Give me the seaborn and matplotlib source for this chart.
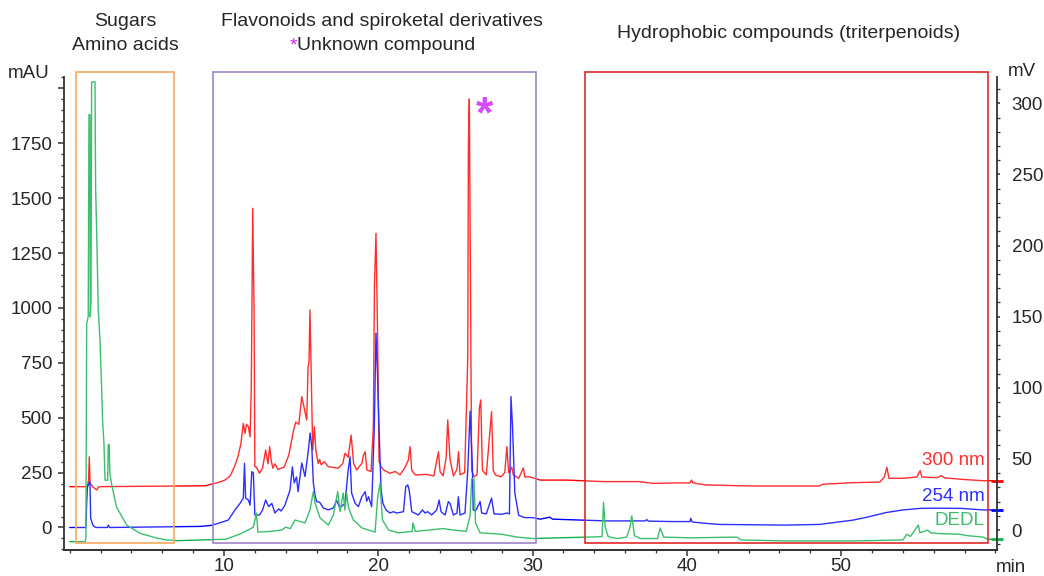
import matplotlib
matplotlib.use("Agg")
import matplotlib.pyplot as plt
import matplotlib.patches as mpatches
import matplotlib.transforms as mtransforms
from matplotlib.ticker import MultipleLocator, FixedLocator
import pandas as pd
import seaborn as sns

# chromatogram traces: (retention time in min, signal)
RED_300 = [
    (0, 186), (1.15, 186), (1.22, 215), (1.27, 322), (1.32, 203), (1.4, 195), (1.5, 185),
    (1.75, 171), (1.85, 183), (2.0, 186), (8.77, 190), (9.63, 205), (10.06, 216), (10.4, 235),
    (10.7, 280), (10.9, 322), (11.1, 383), (11.25, 474), (11.36, 429), (11.45, 470),
    (11.58, 459), (11.69, 413), (11.77, 641), (11.86, 1454), (11.95, 976), (12.0, 277),
    (12.1, 275), (12.3, 247), (12.5, 270), (12.7, 353), (12.85, 290), (12.96, 368),
    (13.07, 300), (13.17, 270), (13.3, 290), (13.5, 265), (13.9, 275), (14.2, 330),
    (14.5, 440), (14.65, 480), (14.85, 470), (15.04, 596), (15.15, 560), (15.36, 490),
    (15.45, 732), (15.51, 755), (15.57, 991), (15.65, 700), (15.75, 353), (15.86, 459),
    (15.95, 353), (16.1, 292), (16.2, 310), (16.3, 285), (16.5, 300), (16.76, 277),
    (17.4, 270), (17.7, 292), (17.84, 338), (18.05, 320), (18.24, 421), (18.4, 292),
    (18.6, 262), (18.93, 292), (19.04, 330), (19.15, 345), (19.26, 262), (19.53, 255),
    (19.68, 459), (19.75, 1097), (19.85, 1340), (19.95, 900), (20.05, 300), (20.2, 275),
    (20.35, 262), (20.75, 247), (21.1, 255), (21.4, 240), (21.7, 270), (21.95, 307),
    (22.06, 368), (22.17, 260), (22.4, 239), (23.1, 242), (23.6, 235), (23.9, 345),
    (24.0, 255), (24.2, 235), (24.4, 320), (24.5, 490), (24.65, 310), (24.87, 235),
    (25.1, 265), (25.2, 345), (25.3, 240), (25.6, 250), (25.8, 778), (25.84, 1742),
    (25.9, 1952), (25.97, 1127), (26.05, 260), (26.2, 231), (26.4, 240), (26.55, 543),
    (26.64, 581), (26.75, 260), (27.0, 240), (27.34, 527), (27.45, 260), (27.6, 239),
    (27.95, 231), (28.2, 250), (28.33, 368), (28.45, 250), (28.65, 275), (28.75, 240),
    (29.1, 224), (29.4, 271), (29.5, 230), (29.8, 231), (30.5, 216), (32.2, 216),
    (34.6, 209), (36.9, 209), (37.8, 201), (39.3, 203), (40.2, 203), (40.3, 216),
    (40.4, 203), (41.2, 194), (44.2, 189), (48.6, 189), (48.8, 197), (50.7, 204),
    (52.5, 207), (52.8, 230), (52.96, 274), (53.1, 224), (54.0, 224), (54.9, 230),
    (55.12, 259), (55.23, 230), (56.2, 227), (56.5, 236), (56.7, 226), (57.9, 219),
    (59.2, 213), (59.8, 213),
]

BLUE_254 = [
    (0, 0), (1.05, 0), (1.1, 110), (1.15, 186), (1.31, 209), (1.36, 43), (1.5, 11),
    (1.6, 3), (1.75, 0), (2.45, 0), (2.5, 11), (2.6, 0), (8.5, 5), (9.2, 10), (9.63, 19),
    (10.28, 34), (10.71, 80), (11.04, 110), (11.25, 134), (11.33, 292), (11.4, 134),
    (11.58, 125), (11.69, 102), (11.8, 254), (11.9, 250), (12.0, 57), (12.3, 57),
    (12.5, 80), (12.7, 125), (12.9, 95), (13.1, 110), (13.3, 66), (13.55, 85), (13.7, 75),
    (13.95, 102), (14.28, 171), (14.43, 276), (14.55, 203), (14.7, 230), (14.8, 163),
    (15.04, 294), (15.25, 232), (15.47, 353), (15.58, 430), (15.69, 368), (15.79, 203),
    (15.9, 148), (16.0, 118), (16.2, 115), (16.44, 89), (16.76, 80), (17.09, 89),
    (17.3, 125), (17.5, 89), (17.84, 110), (18.05, 262), (18.17, 322), (18.27, 157),
    (18.5, 110), (18.71, 95), (18.93, 140), (19.15, 163), (19.25, 120), (19.37, 140),
    (19.57, 95), (19.74, 453), (19.85, 886), (19.95, 700), (20.0, 560), (20.18, 171),
    (20.3, 110), (20.5, 80), (20.76, 66), (20.98, 72), (21.2, 66), (21.63, 72),
    (21.78, 186), (21.91, 194), (22.0, 171), (22.17, 72), (22.6, 57), (22.86, 80),
    (23.03, 66), (23.2, 72), (23.46, 57), (23.79, 80), (23.94, 125), (24.07, 72),
    (24.33, 57), (24.54, 118), (24.65, 110), (24.87, 57), (25.1, 66), (25.19, 140),
    (25.3, 57), (25.62, 66), (25.8, 262), (25.95, 530), (26.1, 277), (26.15, 80),
    (26.3, 75), (26.6, 118), (26.7, 66), (27.0, 62), (27.34, 134), (27.5, 62), (28.0, 60),
    (28.33, 66), (28.5, 62), (28.6, 596), (28.7, 459), (28.85, 157), (29.1, 55),
    (29.5, 45), (30.0, 45), (30.5, 38), (31.1, 47), (31.3, 38), (34.8, 30), (37.3, 30),
    (37.4, 36), (37.5, 29), (39.1, 27), (40.2, 27), (40.25, 42), (40.35, 25), (41.2, 19),
    (42.1, 14), (46.4, 11), (48.6, 14), (50.8, 34), (51.8, 49), (52.9, 68), (54.0, 80),
    (55.1, 87), (56.1, 88), (57.8, 87), (59.2, 80), (59.8, 80),
]

GREEN_DEDL = [
    (0, -8.2), (0.99, -8.2), (1.05, -6), (1.1, 145), (1.2, 150), (1.25, 292), (1.31, 292),
    (1.33, 150), (1.38, 160), (1.42, 315), (1.64, 315), (1.68, 240), (1.75, 209),
    (1.85, 155), (1.96, 134), (2.07, 100), (2.13, 77), (2.22, 61), (2.29, 35), (2.46, 35),
    (2.5, 60), (2.56, 60), (2.6, 40), (2.72, 32), (3.04, 16), (3.69, 3.5), (4.55, -2.3),
    (5.64, -5.7), (6.28, -7), (7.0, -7.5), (10.1, -6.5), (11.0, -3), (11.57, 0),
    (11.9, 2), (12.1, 12), (12.2, -1.5), (13.0, -1), (13.74, 0), (14.0, 2), (14.3, 1),
    (14.6, 7), (15.25, 5), (15.57, 14), (15.79, 27), (15.9, 19), (16.22, 8.5),
    (16.76, 3.5), (17.09, 10.5), (17.37, 27), (17.52, 13), (17.73, 26), (17.84, 14),
    (17.95, 26), (18.06, 16), (18.38, 7), (18.6, 5), (18.93, 1.5), (19.79, -1.5),
    (19.96, 23), (20.11, 33), (20.27, 7), (20.66, 0), (21.3, -2), (22.2, -1), (22.25, 5),
    (22.4, -1), (24.2, 1), (24.85, 0), (25.7, -1), (25.95, 10), (26.05, 36), (26.2, 36),
    (26.3, 5), (26.6, -2), (28.0, -3), (29.0, -5), (30.0, -6), (34.5, -4.7), (34.6, 19.5),
    (34.7, 2.3), (34.9, -4.7), (35.5, -6), (36.1, -5), (36.3, 1.4), (36.43, 10),
    (36.6, -4), (37.0, -6), (38.1, -6), (38.27, 1.4), (38.5, -5), (40.2, -5.5),
    (43.24, -5), (43.5, -7), (46.5, -7.7), (50.8, -7.7), (54.0, -7), (54.26, -3),
    (54.5, -4.5), (55.0, 3.5), (55.1, -2), (55.3, -1.2), (55.6, 0), (55.8, -2),
    (56.3, -2.5), (57.7, -3), (58.2, -4), (59.2, -5), (59.5, -6.5), (59.8, -6.5),
]

TRACE_LABELS = ["300 nm", "254 nm", "DEDL"]
TRACE_COLORS = ["#ff0000", "#0000ff", "#12b04f"]

# highlighted regions (min) with their captions
REGION_SPANS = [(0.4, 6.76), (9.3, 30.2), (33.4, 59.5)]
REGION_COLORS = ["#f7a95e", "#9d84c6", "#e02a2a"]
UNKNOWN_PEAK = (26.9, 1875)

MAU_TICKS = [0, 250, 500, 750, 1000, 1250, 1500, 1750, 2000]
MV_TICKS = [0, 50, 100, 150, 200, 250, 300]
MIN_TICKS = [10, 20, 30, 40, 50]

ACCENT = "#cc22ff"
FS = 13.5
FS_TITLE = 14


def main() -> None:
    sns.set_theme(style="ticks")
    plt.rcParams["font.family"] = ["Liberation Sans", "DejaVu Sans"]

    red = pd.DataFrame(RED_300, columns=["min", "signal"])
    blue = pd.DataFrame(BLUE_254, columns=["min", "signal"])
    green = pd.DataFrame(GREEN_DEDL, columns=["min", "signal"])

    fig = plt.figure(figsize=(10.44, 5.76), dpi=100)
    ax = fig.add_axes([64 / 1044, 1 - 550 / 576, 933 / 1044, 473 / 576])
    ax2 = ax.twinx()

    for df, color in zip([red, blue], TRACE_COLORS[:2]):
        sns.lineplot(data=df, x="min", y="signal", ax=ax, color=color,
                     linewidth=1.0, estimator=None, sort=False)
    sns.lineplot(data=green, x="min", y="signal", ax=ax2, color=TRACE_COLORS[2],
                 linewidth=1.0, estimator=None, sort=False)

    ax.set_xlim(-0.37, 60.1)
    ax.set_ylim(-102.5, 2052)
    ax2.set_ylim(-14.06, 318.5)

    for a in (ax, ax2):
        a.set_xlabel("")
        a.set_ylabel("")
        a.spines["top"].set_visible(False)
        for s in a.spines.values():
            s.set_color("#333333")
            s.set_linewidth(1.3)
    ax.spines["right"].set_visible(False)
    ax2.spines["left"].set_visible(False)

    ax.yaxis.set_major_locator(FixedLocator(MAU_TICKS))
    ax.set_yticklabels([str(v) if v < 2000 else "" for v in MAU_TICKS])
    ax.yaxis.set_minor_locator(MultipleLocator(50))
    ax.xaxis.set_major_locator(FixedLocator(MIN_TICKS))
    ax.set_xticklabels([str(v) for v in MIN_TICKS])
    ax.xaxis.set_minor_locator(MultipleLocator(2))
    ax2.yaxis.set_major_locator(FixedLocator(MV_TICKS))
    ax2.set_yticklabels([str(v) for v in MV_TICKS])
    ax2.yaxis.set_minor_locator(MultipleLocator(10))

    ax.tick_params(axis="both", which="major", direction="out", length=4.5, width=1.1,
                   color="#333333", labelsize=FS, pad=4)
    ax.tick_params(axis="x", which="major", pad=1)
    ax.tick_params(axis="both", which="minor", direction="out", length=2.5, width=0.9,
                   color="#333333")
    ax2.tick_params(axis="y", which="major", direction="out", length=2.5, width=1.1,
                    color="#333333", labelsize=FS, pad=8)
    ax2.tick_params(axis="y", which="minor", direction="out", length=2.0, width=0.9,
                    color="#333333")

    # unit captions
    fig.text(29 / 1044, 1 - 73 / 576, "mAU", ha="center", va="center", fontsize=FS)
    fig.text(1022 / 1044, 1 - 72 / 576, "mV", ha="center", va="center", fontsize=FS)
    fig.text(1011 / 1044, 1 - 567 / 576, "min", ha="center", va="center", fontsize=FS)

    # region boxes
    box_tr = mtransforms.blended_transform_factory(ax.transData, fig.transFigure)
    y0, y1 = 1 - 543 / 576, 1 - 72 / 576
    for (x0, x1), color in zip(REGION_SPANS, REGION_COLORS):
        rect = mpatches.Rectangle((x0, y0), x1 - x0, y1 - y0, transform=box_tr,
                                  facecolor=(1, 1, 1, 0.18), edgecolor=color,
                                  linewidth=1.2, clip_on=False, zorder=5)
        ax2.add_patch(rect)

    fig.text(125.5 / 1044, 1 - 22 / 576, "Sugars", ha="center", va="center",
             fontsize=FS_TITLE)
    fig.text(125.5 / 1044, 1 - 46 / 576, "Amino acids", ha="center", va="center",
             fontsize=FS_TITLE)
    fig.text(381.5 / 1044, 1 - 22 / 576, "Flavonoids and spiroketal derivatives",
             ha="center", va="center", fontsize=FS_TITLE)
    fig.text(297 / 1044, 1 - 46 / 576, "*", ha="right", va="center", fontsize=FS_TITLE,
             color=ACCENT)
    fig.text(297 / 1044, 1 - 46 / 576, "Unknown compound", ha="left", va="center",
             fontsize=FS_TITLE)
    fig.text(788.5 / 1044, 1 - 34 / 576, "Hydrophobic compounds (triterpenoids)",
             ha="center", va="center", fontsize=FS_TITLE)

    ax.text(UNKNOWN_PEAK[0], UNKNOWN_PEAK[1], "*", color=ACCENT, fontsize=32,
            fontweight="bold", ha="center", va="center")

    # trace labels, right aligned near the end of each trace
    ax.text(59.3, 307, TRACE_LABELS[0], color=TRACE_COLORS[0], fontsize=FS,
            ha="right", va="center")
    ax.text(59.3, 143, TRACE_LABELS[1], color=TRACE_COLORS[1], fontsize=FS,
            ha="right", va="center")
    ax.text(59.3, 34, TRACE_LABELS[2], color=TRACE_COLORS[2], fontsize=FS,
            ha="right", va="center", zorder=6)

    # baseline markers on the right spine
    xr = ax.get_xlim()[1]
    ax.plot([xr], [red["signal"].iloc[-1]], marker="_", ms=9, mew=2,
            color=TRACE_COLORS[0], clip_on=False)
    ax.plot([xr], [blue["signal"].iloc[-1]], marker="_", ms=9, mew=2,
            color=TRACE_COLORS[1], clip_on=False)
    ax2.plot([xr], [green["signal"].iloc[-1]], marker="_", ms=9, mew=2,
             color=TRACE_COLORS[2], clip_on=False)

    fig.savefig("out.png", dpi=100)
    plt.close(fig)


if __name__ == "__main__":
    main()
